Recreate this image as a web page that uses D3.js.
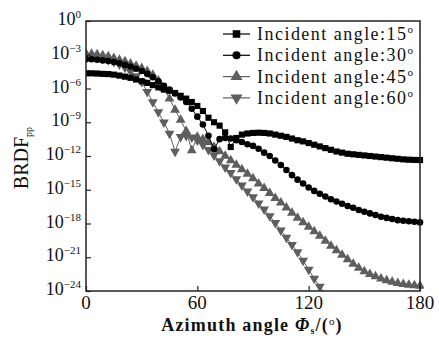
<!DOCTYPE html>
<html><head><meta charset="utf-8">
<script src="https://cdn.jsdelivr.net/npm/d3@7"></script>
<style>body{margin:0;background:#fff}svg{display:block}</style>
</head><body>
<script>
const angles = d3.range(0, 181, 3);
const seriesNames = ["Incident angle:15", "Incident angle:30", "Incident angle:45", "Incident angle:60"];
// log10(BRDF_pp) values at each azimuth angle (step 3°)
const inc15 = [-4.65,-4.65,-4.67,-4.7,-4.72,-4.77,-4.85,-4.95,-5.05,-5.2,-5.35,-5.5,-5.7,-5.9,-6.1,-6.2,-6.4,-6.65,-6.9,-7.2,-7.55,-8.0,-8.6,-9.0,-9.3,-9.9,-11.2,-10.4,-10.1,-10.0,-9.95,-9.93,-9.95,-10.0,-10.1,-10.2,-10.3,-10.45,-10.6,-10.7,-10.85,-11.0,-11.15,-11.3,-11.45,-11.6,-11.7,-11.8,-11.85,-11.9,-11.95,-12.0,-12.05,-12.1,-12.15,-12.2,-12.25,-12.3,-12.33,-12.35,-12.36];
const inc30 = [-3.4,-3.4,-3.45,-3.5,-3.55,-3.65,-3.75,-3.9,-4.05,-4.25,-4.45,-4.7,-5.0,-5.35,-5.75,-6.1,-6.45,-6.8,-7.2,-7.8,-8.5,-9.2,-10.2,-11.4,-10.5,-10.4,-10.45,-10.6,-10.75,-10.95,-11.1,-11.35,-11.7,-12.0,-12.4,-12.8,-13.25,-13.7,-14.1,-14.45,-14.8,-15.1,-15.35,-15.6,-15.85,-16.05,-16.25,-16.45,-16.6,-16.8,-16.95,-17.1,-17.25,-17.4,-17.5,-17.6,-17.7,-17.75,-17.8,-17.85,-17.9];
const inc45 = [-2.9,-2.92,-2.97,-3.05,-3.15,-3.3,-3.45,-3.6,-3.8,-4.0,-4.2,-4.45,-4.8,-5.3,-6.0,-6.9,-7.9,-8.8,-9.8,-11.5,-10.3,-10.5,-10.8,-11.2,-11.6,-12.0,-12.4,-12.8,-13.2,-13.6,-14.0,-14.45,-14.85,-15.3,-15.75,-16.15,-16.6,-17.05,-17.5,-17.9,-18.3,-18.7,-19.1,-19.55,-20.0,-20.4,-20.8,-21.2,-21.6,-21.95,-22.25,-22.5,-22.7,-22.9,-23.05,-23.2,-23.3,-23.4,-23.45,-23.5,-23.55];
const inc60 = [-3.1,-3.12,-3.2,-3.3,-3.45,-3.62,-3.85,-4.15,-4.5,-4.9,-5.4,-6.3,-7.2,-8.1,-9.0,-10.0,-11.6,-10.3,-10.2,-10.35,-10.6,-11.0,-11.45,-11.95,-12.45,-13.0,-13.5,-14.05,-14.6,-15.15,-15.65,-16.2,-16.75,-17.35,-17.95,-18.6,-19.25,-19.9,-20.55,-21.3,-22.1,-22.9,-23.6,-24.3];
const xTicks = [0, 60, 120, 180];
const yTickExps = [0, -3, -6, -9, -12, -15, -18, -21, -24];

const W = 439, H = 342;
const m = {l: 86, r: 420, t: 21, b: 291};
const svg = d3.select("body").append("svg").attr("width", W).attr("height", H);
const x = d3.scaleLinear().domain([0, 180]).range([m.l, m.r]);
const y = d3.scaleLog().domain([1, 1e-24]).range([m.t, m.b]);

const serif = "'Liberation Serif','Times New Roman',serif";
const gray = "#5e5e5e";
const styles = [
  {data: inc15, color: "#000", shape: d3.symbolSquare, size: 38, rot: 0},
  {data: inc30, color: "#000", shape: d3.symbolCircle, size: 34, rot: 0},
  {data: inc45, color: gray, shape: d3.symbolTriangle, size: 42, rot: 0},
  {data: inc60, color: gray, shape: d3.symbolTriangle, size: 42, rot: 180}
];

svg.append("clipPath").attr("id", "clip").append("rect")
  .attr("x", m.l).attr("y", m.t - 4).attr("width", m.r - m.l + 4).attr("height", m.b - m.t + 4);

const plot = svg.append("g").attr("clip-path", "url(#clip)");
const line = d3.line().x(d => x(d[0])).y(d => y(Math.pow(10, d[1])));
styles.slice().reverse().forEach(s => {
  const pts = s.data.map((v, i) => [angles[i], v]);
  plot.append("path").attr("d", line(pts)).attr("fill", "none")
    .attr("stroke", s.color).attr("stroke-width", 1);
  plot.selectAll(null).data(pts).enter().append("path")
    .attr("d", d3.symbol().type(s.shape).size(s.size))
    .attr("transform", d => `translate(${x(d[0])},${y(Math.pow(10, d[1]))}) rotate(${s.rot})`)
    .attr("fill", s.color);
});

// axes frame
svg.append("rect").attr("x", m.l).attr("y", m.t).attr("width", m.r - m.l).attr("height", m.b - m.t)
  .attr("fill", "none").attr("stroke", "#222").attr("stroke-width", 1.5);

// y axis
const yAxis = d3.axisLeft(y).tickValues(yTickExps.map(e => Math.pow(10, e))).tickSize(-5).tickFormat("");
const gy = svg.append("g").attr("transform", `translate(${m.l},0)`).call(yAxis);
gy.select(".domain").remove();
gy.selectAll("line").attr("stroke", "#222").attr("stroke-width", 1.2);
yTickExps.forEach(e => {
  const t = svg.append("text").attr("x", 81).attr("y", y(Math.pow(10, e)) + 4)
    .attr("text-anchor", "end").attr("font-family", serif).attr("font-size", 18).attr("fill", "#111");
  t.append("tspan").text("10");
  t.append("tspan").attr("dy", -7).attr("font-size", 11).text(e === 0 ? "0" : "\u2212" + (-e));
});

// x axis
const xAxis = d3.axisBottom(x).tickValues(xTicks).tickSize(-5).tickFormat("");
const gx = svg.append("g").attr("transform", `translate(0,${m.b})`).call(xAxis);
gx.select(".domain").remove();
gx.selectAll("line").attr("stroke", "#222").attr("stroke-width", 1.2);
xTicks.forEach(v => {
  svg.append("text").attr("x", x(v)).attr("y", 309).attr("text-anchor", "middle")
    .attr("font-family", serif).attr("font-size", 19).attr("fill", "#111").text(v);
});

// x title
const xt = svg.append("text").attr("x", 252).attr("y", 331).attr("text-anchor", "middle")
  .attr("font-family", serif).attr("font-size", 18).attr("font-weight", "bold").attr("fill", "#111")
  .attr("letter-spacing", 1.2);
xt.append("tspan").text("Azimuth angle ");
xt.append("tspan").attr("font-style", "italic").text("\u03A6");
xt.append("tspan").attr("font-size", 10).attr("dy", 3).text("s");
xt.append("tspan").attr("dy", -3).text("/(");
xt.append("tspan").attr("font-size", 11).attr("font-weight", "normal").attr("dy", -6).text("o");
xt.append("tspan").attr("dy", 6).text(")");

// y title
const yt = svg.append("text").attr("transform", "translate(28,158) rotate(-90)").attr("text-anchor", "middle")
  .attr("font-family", serif).attr("font-size", 20).attr("fill", "#111");
yt.append("tspan").text("BRDF");
yt.append("tspan").attr("font-size", 10).attr("dy", 4).text("pp");

// legend
const lg = svg.append("g");
styles.forEach((s, i) => {
  const cy = 34 + i * 21.3;
  lg.append("line").attr("x1", 223).attr("x2", 250).attr("y1", cy).attr("y2", cy)
    .attr("stroke", s.color).attr("stroke-width", 1.2);
  lg.append("path").attr("d", d3.symbol().type(s.shape).size(s.size * 1.5))
    .attr("transform", `translate(236.5,${cy}) rotate(${s.rot})`).attr("fill", s.color);
  const t = lg.append("text").attr("x", 257).attr("y", cy + 6).attr("font-family", serif)
    .attr("font-size", 18).attr("fill", "#111").attr("textLength", 156).attr("lengthAdjust", "spacing");
  t.append("tspan").text(seriesNames[i]);
  t.append("tspan").attr("dy", -7).attr("font-size", 11).text("o");
});
</script>
</body></html>
